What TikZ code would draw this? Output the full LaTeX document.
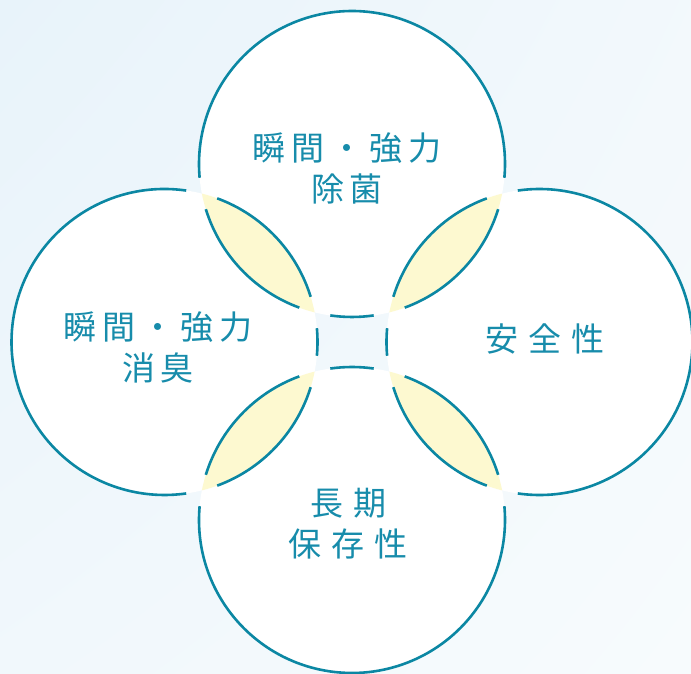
\documentclass[tikz,border=0pt]{standalone}
\usepackage{fontspec}
\usetikzlibrary{shadings}
\newfontfamily\jp{Noto Sans CJK JP}
\definecolor{ringc}{HTML}{0B87A3}
\definecolor{txtc}{HTML}{178CAB}
\definecolor{lensc}{HTML}{FDF9D0}
\definecolor{bgA}{HTML}{E8F3FA}
\definecolor{bgB}{HTML}{F7FBFD}
\begin{document}
\begin{tikzpicture}[x=1pt,y=1pt,
  ring/.style={draw=ringc, line width=2.6pt},
  lbl/.style={text=txtc, font=\jp\fontsize{33}{41}\selectfont, align=center, inner sep=0pt}]
\useasboundingbox (0,0) rectangle (691,674);
\shade[upper left=bgA, lower left=bgB!60!bgA, upper right=bgB!70!bgA, lower right=bgB] (0,0) rectangle (691,674);
\def\rad{153}
\coordinate (T) at (352,510);
\coordinate (B) at (352,154);
\coordinate (L) at (164.5,332);
\coordinate (R) at (539.5,332);
\foreach \c in {T,B,L,R} \fill[white] (\c) circle (\rad);
\begin{scope}
  \clip (T) circle (\rad);
  \fill[lensc] (L) circle (\rad);
  \fill[lensc] (R) circle (\rad);
\end{scope}
\begin{scope}
  \clip (B) circle (\rad);
  \fill[lensc] (L) circle (\rad);
  \fill[lensc] (R) circle (\rad);
\end{scope}
\foreach \c/\a/\b in {
  T/-5.17/185.17, T/197.17/249.85, T/261.85/278.15, T/290.15/342.83,
  L/81.85/278.15, L/17.17/69.85, L/-5.17/5.17, L/-69.85/-17.17,
  R/-98.15/98.15, R/110.15/162.83, R/174.83/185.17, R/197.17/249.85,
  B/174.83/365.17, B/110.15/162.83, B/81.85/98.15, B/17.17/69.85}
  \draw[ring] ([shift={(\a:\rad)}]\c) arc[start angle=\a, end angle=\b, radius=\rad];
\node[lbl] (tt) at (347,505.5) {瞬\kern6pt 間\kern6pt ・\kern6pt 強\kern6pt 力\\除\kern6pt 菌};
\node[lbl] (lt) at (158,326.5) {瞬\kern6pt 間\kern6pt ・\kern6pt 強\kern6pt 力\\消\kern6pt 臭};
\node[lbl] (rt) at (545,335) {安\kern10pt 全\kern10pt 性};
\node[lbl] (bt) at (348,150.5) {長\kern10pt 期\\保\kern10pt 存\kern10pt 性};
\end{tikzpicture}
\end{document}
